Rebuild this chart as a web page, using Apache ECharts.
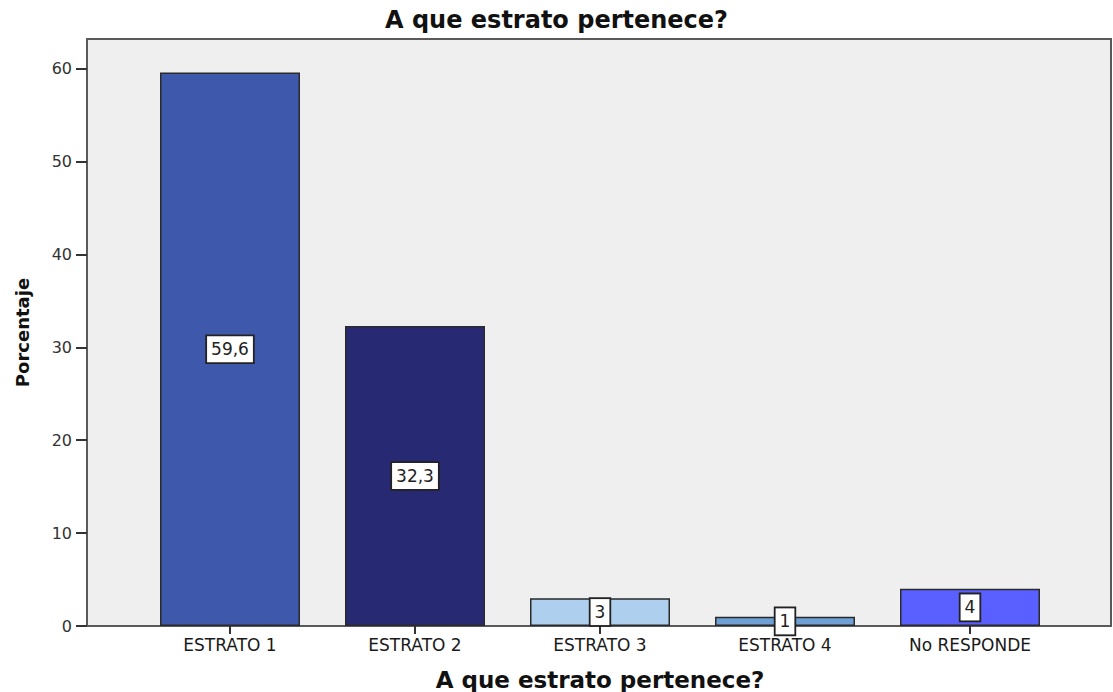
<!DOCTYPE html>
<html>
<head>
<meta charset="utf-8">
<script src="https://cdn.jsdelivr.net/npm/echarts@6/dist/echarts.min.js"></script>
<style>
  html, body { margin: 0; padding: 0; background: #ffffff; }
  #chart { width: 1113px; height: 692px; }
</style>
</head>
<body>
<div id="chart"></div>
<script>
// Survey answers: share of respondents per socioeconomic stratum (percent)
const categories = ['ESTRATO 1', 'ESTRATO 2', 'ESTRATO 3', 'ESTRATO 4', 'No RESPONDE'];
const percentages = [59.6, 32.3, 3, 1, 4];
const yTicks = [0, 10, 20, 30, 40, 50, 60];
const barColors = ['#3e58ac', '#272a72', '#aed0ee', '#6fa0d5', '#5a5fff'];

const titleText = 'A que estrato pertenece?';
const yName = 'Porcentaje';
const xName = 'A que estrato pertenece?';

const yMax = 63.2;
const textFont = 'DejaVu Sans';

const chart = echarts.init(document.getElementById('chart'), null, { renderer: 'svg' });

chart.setOption({
  animation: false,
  backgroundColor: '#ffffff',
  title: {
    text: titleText,
    left: 'center',
    top: 3,
    textStyle: { fontFamily: textFont, fontWeight: 'bold', fontSize: 24, color: '#111' }
  },
  grid: [
    // framed plotting area with the percentage scale
    { left: 87, right: 2, top: 39, bottom: 66, show: true, outerBoundsMode: 'none',
      backgroundColor: '#efefef', borderColor: '#5a5a5a', borderWidth: 2 },
    // inner band holding the category bars
    { left: 137.5, right: 50.5, top: 39, bottom: 66, outerBoundsMode: 'none' }
  ],
  xAxis: [
    { gridIndex: 0, type: 'value', show: false, min: 0, max: 1 },
    {
      gridIndex: 1,
      type: 'category',
      data: categories,
      boundaryGap: true,
      name: xName,
      nameLocation: 'middle',
      nameGap: 42,
      nameTextStyle: { fontFamily: textFont, fontWeight: 'bold', fontSize: 23, color: '#111' },
      axisLine: { show: false },
      axisTick: { show: true, alignWithLabel: true, length: 8, lineStyle: { color: '#333', width: 2 } },
      axisLabel: { margin: 10, fontFamily: textFont, fontSize: 17, color: '#1a1a1a' },
      splitLine: { show: false }
    }
  ],
  yAxis: [
    {
      gridIndex: 0,
      type: 'value',
      min: 0,
      max: yMax,
      interval: 10,
      name: yName,
      nameLocation: 'middle',
      nameGap: 56,
      nameRotate: 90,
      nameTextStyle: { fontFamily: textFont, fontWeight: 'bold', fontSize: 18, color: '#111' },
      axisLine: { show: false },
      axisTick: { show: true, length: 11, customValues: yTicks, lineStyle: { color: '#333', width: 2 } },
      axisLabel: { margin: 15, customValues: yTicks, fontFamily: textFont, fontSize: 16, color: '#333' },
      splitLine: { show: false }
    },
    { gridIndex: 1, type: 'value', min: 0, max: yMax, show: false, splitLine: { show: false } }
  ],
  series: [
    {
      type: 'bar',
      xAxisIndex: 1,
      yAxisIndex: 1,
      barWidth: 140,
      data: percentages.map((v, i) => ({
        value: v,
        itemStyle: { color: barColors[i] }
      })),
      itemStyle: { borderColor: '#2a2a2a', borderWidth: 1.5 },
      label: {
        show: true,
        position: 'inside',
        formatter: p => String(p.value).replace('.', ','),
        fontFamily: textFont,
        fontSize: 17,
        lineHeight: 16,
        color: '#222',
        backgroundColor: '#ffffff',
        borderColor: '#222',
        borderWidth: 1.8,
        padding: [5, 4, 5, 4]
      }
    }
  ]
});
</script>
</body>
</html>
